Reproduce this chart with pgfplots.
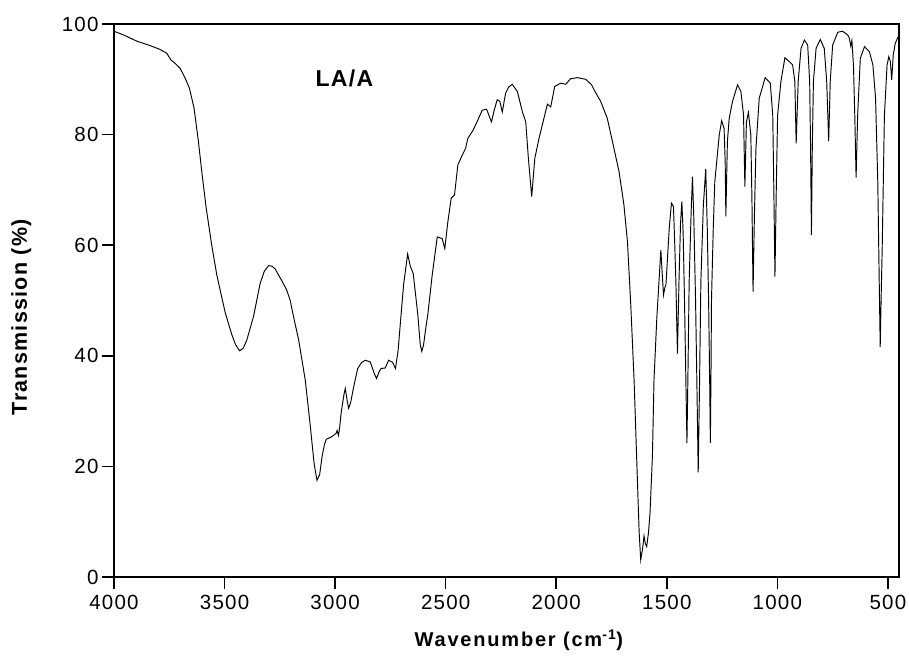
\documentclass[border=0pt]{standalone}
\usepackage{fontspec}
\setmainfont{Liberation Sans}[LetterSpace=6]
\newfontfamily\labelfont{Liberation Sans}[LetterSpace=9]
\usepackage{pgfplots}
\pgfplotsset{compat=1.18}

\pgfplotstableread{
w T
4000 98.7
3950 97.9
3897 96.9
3837 96.1
3792 95.4
3761 94.7
3743 93.5
3730 93.1
3719 92.7
3701 92.0
3678 90.2
3659 88.4
3638 84.8
3618 78.7
3603 73.3
3583 66.7
3558 60.0
3535 54.6
3515 51.0
3497 47.8
3467 43.8
3450 42.0
3432 40.9
3415 41.4
3399 42.9
3369 47.1
3339 53.1
3320 55.3
3301 56.3
3285 56.2
3271 55.7
3250 54.2
3240 53.5
3220 52.0
3203 50.0
3185 46.5
3165 42.9
3135 35.6
3112 27.2
3095 20.5
3082 17.5
3070 18.5
3059 21.8
3048 24.0
3040 24.9
3014 25.4
2995 26.0
2991 26.5
2985 25.6
2980 26.8
2973 29.6
2960 33.0
2954 34.1
2946 32.0
2939 30.5
2930 31.5
2916 34.4
2898 37.7
2880 38.8
2863 39.2
2841 38.9
2825 37.0
2813 35.9
2800 37.2
2792 37.7
2773 37.8
2758 39.2
2740 38.8
2727 37.7
2715 41.0
2705 45.9
2690 53.0
2672 58.4
2660 56.2
2647 54.9
2636 51.0
2626 47.4
2615 42.0
2608 40.8
2600 42.0
2590 45.0
2581 47.4
2561 54.6
2538 61.5
2516 61.2
2504 59.4
2490 64.3
2475 68.5
2460 69.1
2445 74.5
2425 76.3
2410 77.5
2400 79.3
2376 80.8
2355 82.6
2335 84.4
2315 84.6
2300 83.0
2293 82.3
2280 84.5
2267 86.3
2255 86.0
2244 84.1
2229 87.5
2215 88.6
2199 89.1
2176 87.8
2153 84.1
2138 82.3
2126 75.7
2111 68.8
2097 75.7
2078 79.3
2056 82.9
2040 85.5
2025 85.0
2007 88.7
1980 89.3
1957 89.1
1935 90.1
1905 90.3
1867 90.0
1840 89.0
1829 88.1
1799 86.0
1769 82.9
1739 77.5
1716 73.3
1694 67.3
1678 60.6
1663 49.2
1648 35.6
1633 17.5
1625 8.0
1618 3.1
1610 5.0
1603 7.4
1597 6.0
1591 5.5
1583 8.0
1576 11.5
1565 22.0
1558 35.6
1545 47.0
1535 53.7
1527 59.1
1521 55.0
1515 51.0
1508 52.5
1504 52.8
1489 63.1
1479 67.6
1470 67.0
1464 60.0
1459 53.4
1452 40.4
1445 53.4
1438 64.0
1432 67.9
1426 62.0
1420 50.0
1414 36.0
1409 24.2
1404 38.0
1399 53.4
1390 66.0
1384 72.4
1378 65.0
1370 50.0
1364 35.0
1358 18.9
1352 35.0
1346 53.4
1335 67.0
1324 73.8
1317 63.0
1311 50.0
1306 35.0
1303 24.2
1300 38.0
1298 50.0
1290 63.0
1283 71.5
1263 79.9
1252 82.5
1241 81.1
1236 75.0
1233 65.2
1229 73.0
1226 78.7
1218 82.9
1203 86.0
1180 89.0
1165 87.8
1153 83.5
1147 70.6
1140 82.3
1131 84.0
1120 79.9
1115 68.0
1110 51.6
1104 65.0
1097 77.5
1082 86.6
1055 90.3
1032 89.3
1021 83.5
1016 70.0
1011 54.3
1005 70.0
999 83.5
984 89.6
966 93.9
946 93.2
931 92.6
921 89.6
915 78.4
906 89.6
893 95.6
878 97.1
863 96.2
854 89.6
850 78.0
846 61.8
842 78.0
837 89.6
825 95.6
806 97.2
788 95.6
777 89.6
768 78.8
761 89.6
750 96.2
727 98.5
705 98.7
682 98.0
675 97.5
668 96.0
663 97.0
656 92.6
650 83.5
644 72.2
637 83.5
625 93.8
606 95.9
584 95.0
568 92.6
556 86.6
546 71.5
540 55.0
535 41.6
530 52.0
526 59.4
516 83.5
504 92.6
496 94.1
489 93.2
483 89.9
476 94.4
467 96.5
456 97.5
450 97.9
}\spectrum

\begin{document}
\begin{tikzpicture}
\begin{axis}[
  at={(114pt,86pt)}, anchor=south west,
  scale only axis,
  width=785pt, height=553pt,
  x dir=reverse,
  xmin=450, xmax=4000,
  ymin=0, ymax=100,
  xtick={500,1000,...,4000},
  ytick={0,20,...,100},
  tick pos=left,
  tick align=outside,
  major tick length=12pt,
  minor tick num=0,
  axis line style={line width=1.6pt},
  every tick/.style={line width=1.6pt, black},
  /pgf/number format/assume math mode=true,
  /pgf/number format/1000 sep={},
  tick label style={font=\fontsize{20.5}{24}\selectfont},
  xticklabel style={yshift=-3pt},
  xlabel={\textbf{Wavenumber (cm\textsuperscript{-1})}},
  ylabel={\textbf{Transmission (\%)}},
  xlabel style={font=\labelfont\fontsize{20}{24}\selectfont, at={(axis description cs:0.517,-0.114)}, anchor=center},
  ylabel style={font=\fontsize{21.5}{24}\selectfont, at={(axis description cs:-0.118,0.471)}, anchor=center},
]
\addplot[black, line width=0.95pt] table[x=w, y=T] {\spectrum};
\node[font=\fontsize{23}{26}\selectfont\bfseries] at (axis cs:2958,90.1) {LA/A};
\end{axis}
\pgfresetboundingbox
\useasboundingbox (0,0) rectangle (909pt,663pt);
\end{tikzpicture}
\end{document}
